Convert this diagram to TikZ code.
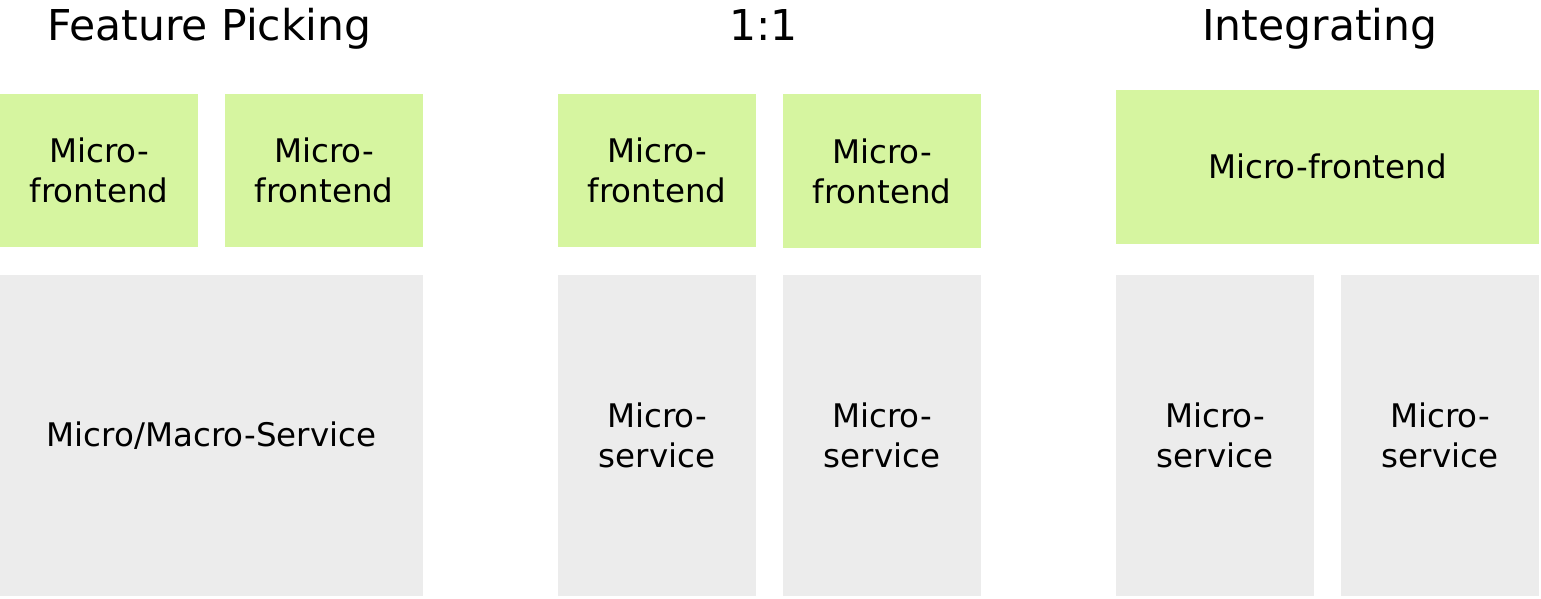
\documentclass[tikz,border=0pt]{standalone}
\usepackage{fontspec}
\setmainfont{DejaVu Sans}
\definecolor{fegreen}{HTML}{D6F5A0}
\definecolor{svcgray}{HTML}{ECECEC}
\begin{document}
\begin{tikzpicture}[x=1pt,y=-1pt]
            \tikzstyle{every node}=[rectangle, inner sep=0pt, align=center, text=black, font=\fontsize{32.5}{40}\selectfont]
            \tikzstyle{fe}=[fill=fegreen, minimum width=198pt, minimum height=153.5pt]
            \tikzstyle{svc}=[fill=svcgray, minimum width=198pt, minimum height=321pt]
            \tikzstyle{title}=[anchor=base, font=\fontsize{42.5}{50}\selectfont]

            \useasboundingbox (0,0) rectangle (1541,598);

            % titles
            \node[title] (tfp) at (209.5,40) {Feature Picking};
            \node[title] (too) at (763.5,40) {1:1};
            \node[title] (tin) at (1320,40) {Integrating};

            % feature picking
            \node[fe] (fpa) at (99,170.5) {Micro-\\frontend};
            \node[fe] (fpb) at (324,170.5) {Micro-\\frontend};
            \node[svc, minimum width=423pt] (fps) at (211.5,435.5) {Micro/Macro-Service};

            % 1:1
            \node[fe] (ooa) at (657,170.5) {Micro-\\frontend};
            \node[fe, minimum height=154pt] (oob) at (882,171) {Micro-\\frontend};
            \node[svc] (oosa) at (657,435.5) {Micro-\\service};
            \node[svc] (oosb) at (882,435.5) {Micro-\\service};

            % integrating
            \node[fe, minimum width=423pt, minimum height=154pt] (inf) at (1327.5,166.5) {Micro-frontend};
            \node[svc] (insa) at (1215,435.5) {Micro-\\service};
            \node[svc] (insb) at (1440,435.5) {Micro-\\service};
\end{tikzpicture}
\end{document}
